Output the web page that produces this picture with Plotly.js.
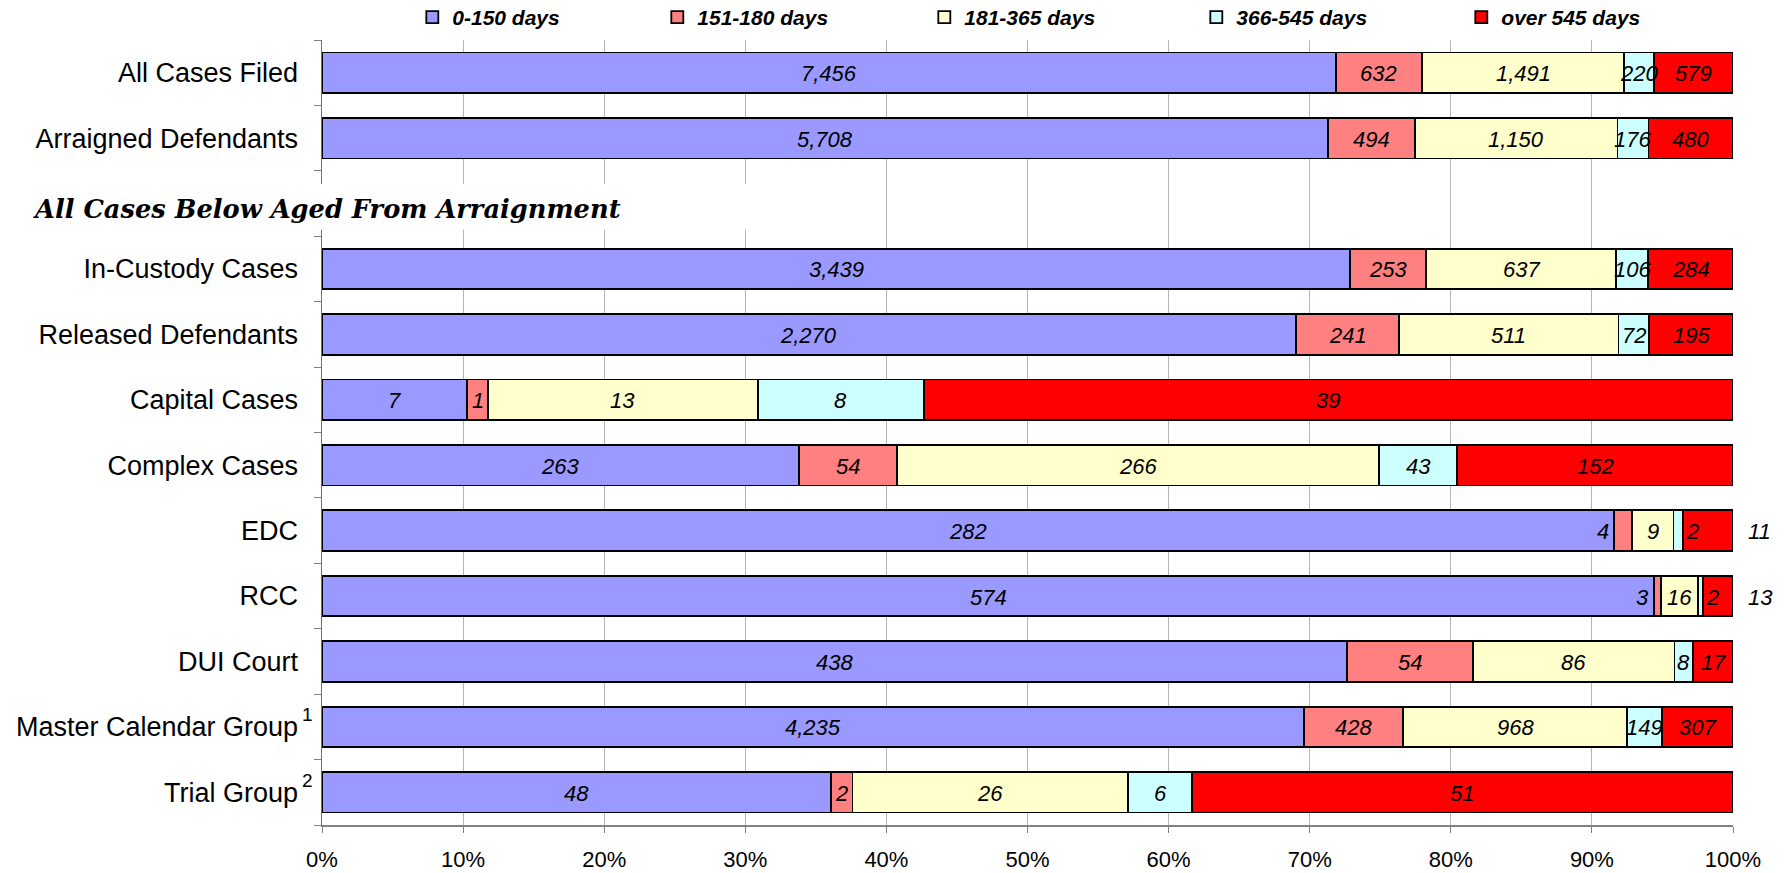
<!DOCTYPE html>
<html>
<head>
<meta charset="utf-8">
<script src="https://cdn.plot.ly/plotly-3.0.1.min.js"></script>
<style>
  html, body { margin: 0; padding: 0; background: #ffffff; }
  #chart { width: 1789px; height: 873px; }
</style>
</head>
<body>
<div id="chart"></div>
<script>
// ---------------- DATA ----------------
const categories = ['All Cases Filed', 'Arraigned Defendants', 'In-Custody Cases', 'Released Defendants',
  'Capital Cases', 'Complex Cases', 'EDC', 'RCC', 'DUI Court', 'Master Calendar Group', 'Trial Group'];
const footnoteMarks = ['', '', '', '', '', '', '', '', '', '1', '2'];
const sectionHeading = 'All Cases Below Aged From Arraignment';
const seriesNames = ['0-150 days', '151-180 days', '181-365 days', '366-545 days', 'over 545 days'];
const days0to150   = [7456, 5708, 3439, 2270, 7, 263, 282, 574, 438, 4235, 48];
const days151to180 = [632, 494, 253, 241, 1, 54, 4, 3, 54, 428, 2];
const days181to365 = [1491, 1150, 637, 511, 13, 266, 9, 16, 86, 968, 26];
const days366to545 = [220, 176, 106, 72, 8, 43, 2, 2, 8, 149, 6];
const daysOver545  = [579, 480, 284, 195, 39, 152, 11, 13, 17, 307, 51];
const xTickValues = [0, 10, 20, 30, 40, 50, 60, 70, 80, 90, 100];
const xTickLabels = ['0%', '10%', '20%', '30%', '40%', '50%', '60%', '70%', '80%', '90%', '100%'];

// ---------------- STYLE / LAYOUT ----------------
const series = [days0to150, days151to180, days181to365, days366to545, daysOver545];
const colors = ['#9999FF', '#FF8080', '#FFFFCC', '#CCFFFF', '#FF0000'];
const legendWidths = [200, 222, 227, 220, 150];
const sansFont = 'Liberation Sans, Arial, sans-serif';
const labelFont = {family: sansFont, size: 22, style: 'italic', color: '#000000'};

// the heading occupies an empty row after the first two categories
const headingRow = 2;
const rowPos = categories.map((c, i) => (i < headingRow ? i : i + 1));

// labels that were moved off their segment in the original chart
const movedLabels = {
  'EDC': {1: 'before', 3: 'after', 4: 'outside'},
  'RCC': {1: 'before', 3: 'after', 4: 'outside'}
};

const fmt = v => v.toLocaleString('en-US');
const totals = categories.map((c, i) => series.reduce((s, arr) => s + arr[i], 0));

const traces = series.map((vals, si) => ({
  type: 'bar',
  orientation: 'h',
  name: seriesNames[si],
  x: vals,
  y: rowPos,
  marker: {color: colors[si], line: {color: '#000000', width: 1.8}},
  legendwidth: legendWidths[si],
  hoverinfo: 'skip'
}));

const annotations = [];
// data labels, positioned from the data through the x axis (bars are normalised to 100%)
categories.forEach((cat, i) => {
  let before = 0;
  series.forEach((vals, si) => {
    const start = before / totals[i] * 100;
    const end = (before + vals[i]) / totals[i] * 100;
    before += vals[i];
    const place = (movedLabels[cat] && movedLabels[cat][si]) || 'center';
    const a = {
      xref: 'x', yref: 'y', y: rowPos[i], showarrow: false,
      text: fmt(vals[i]), font: labelFont, yanchor: 'middle', yshift: -1
    };
    if (place === 'before') { a.x = start; a.xanchor = 'right'; a.xshift = -3; }
    else if (place === 'after') { a.x = end; a.xanchor = 'left'; a.xshift = 1; }
    else if (place === 'outside') { a.x = 100; a.xanchor = 'left'; a.xshift = 13; }
    else { a.x = (start + end) / 2; a.xanchor = 'center'; }
    annotations.push(a);
  });
});
// footnote marks next to category labels
categories.forEach((cat, i) => {
  if (!footnoteMarks[i]) return;
  annotations.push({
    xref: 'paper', yref: 'y', x: 0, y: rowPos[i], xanchor: 'left', yanchor: 'middle',
    xshift: -22, yshift: 12, showarrow: false, text: footnoteMarks[i],
    font: {family: sansFont, size: 19, color: '#000000'}
  });
});
// section heading
annotations.push({
  xref: 'paper', yref: 'y', x: -0.206, y: headingRow, xanchor: 'left', yanchor: 'middle',
  yshift: -5, showarrow: false, text: sectionHeading,
  font: {family: 'DejaVu Serif, serif', size: 25.7, weight: 'bold', style: 'italic', color: '#000000'}
});

const layout = {
  width: 1789,
  height: 873,
  margin: {l: 322, r: 56, t: 40, b: 48, pad: 0, autoexpand: false},
  paper_bgcolor: '#ffffff',
  plot_bgcolor: '#ffffff',
  barmode: 'stack',
  barnorm: 'percent',
  bargap: 0.38,
  showlegend: true,
  legend: {
    orientation: 'h', x: 0.064, xanchor: 'left', y: 1.0287, yanchor: 'middle',
    traceorder: 'normal', bgcolor: 'rgba(0,0,0,0)', borderwidth: 0,
    font: {family: sansFont, size: 21, weight: 'bold', style: 'italic', color: '#000000'}
  },
  xaxis: {
    range: [0, 100], tickmode: 'array', tickvals: xTickValues, ticktext: xTickLabels,
    showgrid: true, gridcolor: '#b4b4b4', gridwidth: 1,
    ticks: 'outside', ticklen: 6, tickcolor: '#808080', tickwidth: 1,
    showline: true, linecolor: '#808080', linewidth: 1.5, zeroline: false,
    tickfont: {family: sansFont, size: 22, color: '#000000'},
    ticklabelstandoff: 8, automargin: false, fixedrange: true
  },
  yaxis: {
    range: [11.5, -0.5], tickmode: 'array', tickvals: rowPos, ticktext: categories,
    ticks: '', showgrid: false, zeroline: false,
    showline: true, linecolor: '#707070', linewidth: 1.5,
    tickfont: {family: sansFont, size: 27, color: '#000000'},
    ticklabelstandoff: 17,
    minor: {tickmode: 'linear', tick0: -0.5, dtick: 1, ticks: 'outside', ticklen: 7, tickcolor: '#808080', showgrid: false},
    automargin: false, fixedrange: true
  },
  shapes: [{
    type: 'rect', layer: 'above', xref: 'paper', yref: 'y',
    x0: -0.23, x1: 0.34, y0: 1.7, y1: 2.4,
    fillcolor: '#ffffff', line: {width: 0}
  }],
  annotations: annotations
};

Plotly.newPlot('chart', traces, layout, {displayModeBar: false, staticPlot: true});
</script>
</body>
</html>
